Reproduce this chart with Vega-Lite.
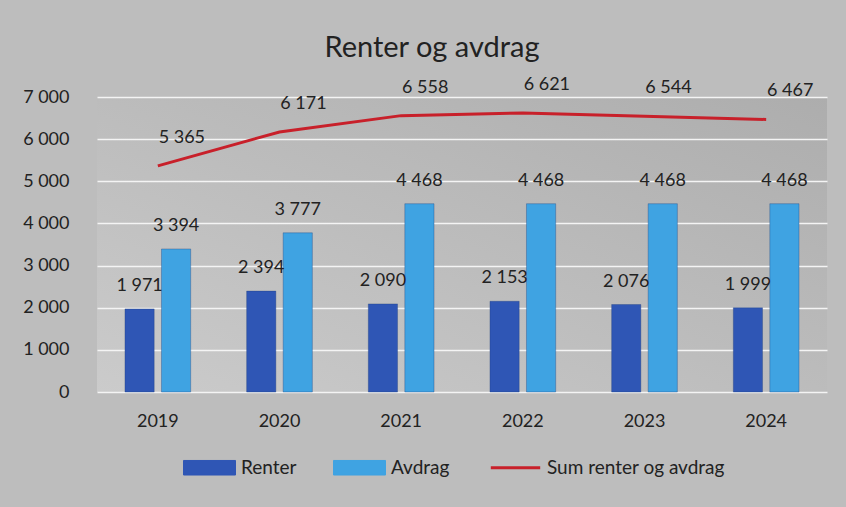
{
  "$schema": "https://vega.github.io/schema/vega-lite/v6.json",
  "width": 730,
  "height": 295,
  "autosize": {"type": "none"},
  "padding": {"left": 97, "top": 97, "right": 19, "bottom": 115},
  "background": "#bdbdbd",
  "config": {
    "locale": {"number": {"decimal": ",", "thousands": " ", "grouping": [3], "currency": ["", ""]}},
    "font": "Lato",
    "view": {
      "stroke": null,
      "fill": {"gradient": "linear", "x1": 0, "y1": 1, "x2": 1, "y2": 0,
        "stops": [{"offset": 0, "color": "#cbcbcb"}, {"offset": 1, "color": "#adadad"}]}
    },
    "legend": {"layout": {"bottom": {"anchor": "middle"}}}
  },
  "title": {"text": "Renter og avdrag", "fontSize": 29, "font": "Lato", "fontWeight": "normal", "color": "#222222", "anchor": "middle", "offset": 13, "dx": -30},
  "data": {"values": [
    {"year": "2019", "series": "Renter", "value": 1971},
    {"year": "2019", "series": "Avdrag", "value": 3394},
    {"year": "2019", "series": "Sum renter og avdrag", "value": 5365},
    {"year": "2020", "series": "Renter", "value": 2394},
    {"year": "2020", "series": "Avdrag", "value": 3777},
    {"year": "2020", "series": "Sum renter og avdrag", "value": 6171},
    {"year": "2021", "series": "Renter", "value": 2090},
    {"year": "2021", "series": "Avdrag", "value": 4468},
    {"year": "2021", "series": "Sum renter og avdrag", "value": 6558},
    {"year": "2022", "series": "Renter", "value": 2153},
    {"year": "2022", "series": "Avdrag", "value": 4468},
    {"year": "2022", "series": "Sum renter og avdrag", "value": 6621},
    {"year": "2023", "series": "Renter", "value": 2076},
    {"year": "2023", "series": "Avdrag", "value": 4468},
    {"year": "2023", "series": "Sum renter og avdrag", "value": 6544},
    {"year": "2024", "series": "Renter", "value": 1999},
    {"year": "2024", "series": "Avdrag", "value": 4468},
    {"year": "2024", "series": "Sum renter og avdrag", "value": 6467}
  ]},
  "encoding": {
    "x": {"field": "year", "type": "nominal",
      "scale": {"paddingInner": 0.46, "paddingOuter": 0.23},
      "axis": {"title": null, "labelAngle": 0, "domain": false, "ticks": false, "labelFontSize": 18, "labelPadding": 20, "labelColor": "#222222", "labelFont": "Lato"}},
    "y": {"field": "value", "type": "quantitative",
      "scale": {"domain": [0, 7000], "nice": false},
      "axis": {"title": null, "values": [0, 1000, 2000, 3000, 4000, 5000, 6000, 7000], "format": ",.0f", "domain": false, "ticks": false, "gridColor": "#f4f4f4", "gridWidth": 1.5, "labelFontSize": 18, "labelColor": "#222222", "labelPadding": 28, "labelFont": "Lato"}}
  },
  "layer": [
    {
      "transform": [{"filter": "datum.series !== 'Sum renter og avdrag'"}],
      "mark": {"type": "bar", "stroke": "#1f3f7a", "strokeOpacity": 0.35, "strokeWidth": 1},
      "encoding": {
        "xOffset": {"field": "series", "type": "nominal", "sort": ["Renter", "Avdrag"], "scale": {"paddingInner": 0.2}},
        "color": {"field": "series", "type": "nominal",
          "scale": {"domain": ["Renter", "Avdrag", "Sum renter og avdrag"], "range": ["#2f56b5", "#3fa3e2", "#c8202a"]},
          "legend": {"title": null, "orient": "bottom", "direction": "horizontal", "offset": 28,
            "labelFontSize": 19, "labelColor": "#222222", "labelFont": "Lato", "labelLimit": 400, "symbolSize": 2704, "columnPadding": 34, "labelOffset": 22,
            "encoding": {"symbols": {
              "shape": {"value": {"expr": "datum.label === 'Sum renter og avdrag' ? 'M-0.95,0H0.95' : 'M-1,-0.28H1V0.28H-1Z'"}},
              "fill": {"value": {"expr": "datum.label === 'Sum renter og avdrag' ? 'transparent' : (datum.label === 'Renter' ? '#2f56b5' : '#3fa3e2')"}},
              "stroke": {"value": {"expr": "datum.label === 'Sum renter og avdrag' ? '#c8202a' : (datum.label === 'Renter' ? '#1d3b85' : '#2a7fb8')"}},
              "strokeWidth": {"value": {"expr": "datum.label === 'Sum renter og avdrag' ? 3 : 1"}},
              "opacity": {"value": 1},
              "fillOpacity": {"value": 1},
              "strokeOpacity": {"value": 1}
            }}}
        }
      }
    },
    {
      "transform": [{"filter": "datum.series !== 'Sum renter og avdrag'"}],
      "mark": {"type": "text", "baseline": "middle", "dy": -23, "fontSize": 18, "color": "#222222", "font": "Lato"},
      "encoding": {
        "xOffset": {"field": "series", "type": "nominal", "sort": ["Renter", "Avdrag"], "scale": {"paddingInner": 0.2}},
        "text": {"field": "value", "type": "quantitative", "format": ","}
      }
    },
    {
      "transform": [{"filter": "datum.series === 'Sum renter og avdrag'"}],
      "mark": {"type": "line", "strokeWidth": 3},
      "encoding": {
        "color": {"field": "series", "type": "nominal"}
      }
    },
    {
      "transform": [{"filter": "datum.series === 'Sum renter og avdrag'"}],
      "mark": {"type": "text", "baseline": "middle", "dx": 24, "dy": -28, "fontSize": 18, "color": "#222222", "font": "Lato"},
      "encoding": {
        "text": {"field": "value", "type": "quantitative", "format": ","}
      }
    }
  ]
}
